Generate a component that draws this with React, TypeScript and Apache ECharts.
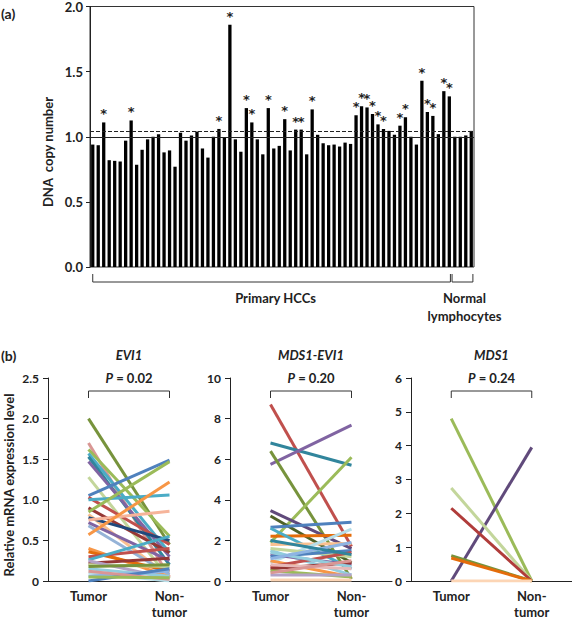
import React, { useEffect, useRef } from 'react';
import * as echarts from 'echarts';

// ---------- Panel (a): DNA copy number ----------
const copyNumbers = [
  0.94, 0.935, 1.11, 0.82, 0.815, 0.81, 0.97, 1.125, 0.785, 0.9,
  0.98, 1.0, 1.02, 0.88, 0.895, 0.77, 1.03, 0.97, 1.01, 1.04,
  0.91, 0.84, 1.0, 1.06, 0.99, 1.86, 0.98, 0.885, 1.22, 1.11,
  0.98, 0.865, 1.22, 0.91, 0.93, 1.135, 0.895, 1.055, 1.055, 0.865,
  1.21, 1.015, 0.95, 0.935, 0.94, 0.925, 0.955, 0.945, 1.165, 1.235,
  1.225, 1.175, 1.095, 1.06, 1.045, 1.015, 1.085, 1.15, 1.0, 0.94,
  1.43, 1.19, 1.16, 1.02, 1.35, 1.31, 1.0, 1.0, 1.01, 1.045,
];
// 1-based sample numbers marked with an asterisk
const starredSamples = [3, 8, 24, 26, 29, 30, 33, 36, 38, 39, 41, 49, 50, 51, 52, 53, 54, 57, 58, 61, 62, 63, 65, 66];
const hccCount = 66; // first 66 = primary HCCs, remaining = normal lymphocytes
const baselineValue = 1.0;
const thresholdValue = 1.04;
const copyAxisMax = 2.0;
const copyAxisInterval = 0.5;
const groupLabelA = ['Primary HCCs', 'Normal\nlymphocytes'];

// ---------- Panel (b): relative mRNA expression ----------
const groups = ['Tumor', 'Non-\ntumor'];
const geneNames = ['EVI1', 'MDS1-EVI1', 'MDS1'];
const pValues = ['0.02', '0.20', '0.24'];
const yMaxB = [2.5, 10, 6];
const yIntervalB = [0.5, 2, 1];

const evi1Tumor = [2.0, 1.7, 1.62, 1.57, 1.53, 1.47, 1.28, 1.05, 1.03, 1.0, 0.9, 0.85, 0.82, 0.78, 0.75, 0.72, 0.68, 0.57, 0.4, 0.36, 0.3, 0.26, 0.22, 0.2, 0.25, 0.15, 0.1, 0.06, 0.0, 0.12, 0.18, 0.05];
const evi1NonTumor = [0.45, 0.05, 0.55, 0.35, 0.2, 0.3, 0.03, 1.49, 0.45, 1.06, 0.35, 1.47, 0.05, 0.5, 0.86, 0.25, 0.08, 1.22, 0.05, 0.12, 0.4, 0.55, 0.28, 0.18, 0.03, 0.06, 0.0, 0.12, 0.15, 0.02, 0.2, 0.04];
const evi1Colors = ['#77933C', '#D99694', '#9BBB59', '#4BACC6', '#31859C', '#8064A2', '#C3D69B', '#4F81BD', '#C0504D', '#4BACC6', '#953735', '#9BBB59', '#FAC090', '#1F497D', '#F6B49A', '#8064A2', '#95B3D7', '#F79646', '#F79646', '#E46C0A', '#C0504D', '#4BACC6', '#953735', '#C3D69B', '#B3A2C7', '#93CDDD', '#B7DEE8', '#8EB4E3', '#4F81BD', '#D99694', '#77933C', '#9BBB59'];

const mdsEvi1Tumor = [8.7, 6.8, 5.75, 6.4, 1.9, 3.47, 3.2, 2.65, 2.2, 2.6, 1.8, 0.9, 1.5, 1.6, 1.3, 1.2, 1.0, 0.7, 0.6, 0.5, 0.3, 0.05, 1.4, 1.1, 0.8, 2.0, 0.4];
const mdsEvi1NonTumor = [1.7, 5.7, 7.68, 0.1, 6.1, 1.6, 0.9, 2.9, 2.25, 0.6, 1.85, 2.55, 0.3, 1.2, 0.8, 1.5, 0.2, 1.4, 0.9, 0.2, 0.3, 0.05, 0.7, 1.9, 0.6, 1.3, 1.0];
const mdsEvi1Colors = ['#C0504D', '#31859C', '#8064A2', '#77933C', '#9BBB59', '#604A7B', '#4F6228', '#4F81BD', '#E46C0A', '#4BACC6', '#FAC090', '#B7DEE8', '#93CDDD', '#C3D69B', '#8064A2', '#4F81BD', '#F79646', '#C0504D', '#953735', '#9BBB59', '#B3A2C7', '#FCD5B5', '#93CDDD', '#8EB4E3', '#E6B9B8', '#31859C', '#D99694'];

const mds1Tumor = [4.8, 0.0, 2.75, 2.15, 0.75, 0.68, 0.0];
const mds1NonTumor = [0.0, 3.95, 0.0, 0.0, 0.0, 0.0, 0.0];
const mds1Colors = ['#9BBB59', '#604A7B', '#C3D69B', '#B03C3A', '#77933C', '#E46C0A', '#FCD5B5'];

const tumorB = [evi1Tumor, mdsEvi1Tumor, mds1Tumor];
const nonTumorB = [evi1NonTumor, mdsEvi1NonTumor, mds1NonTumor];
const colorsB = [evi1Colors, mdsEvi1Colors, mds1Colors];

const FONT = 'Lato';
const TXT = '#222';

export default function App() {
  const ref = useRef<HTMLDivElement>(null);
  useEffect(() => {
    document.body.style.margin = '0';
    const chart = echarts.init(ref.current!, null, { renderer: 'svg' });
    const labelStyle = { fontFamily: FONT, fontWeight: 'bold' as const, fontSize: 12, color: TXT };

    const gridsB = [48, 230, 411].map((left) => ({ left, top: 378, width: 162, height: 207 }));

    const series: any[] = [];
    series.push({
      type: 'bar',
      xAxisIndex: 0,
      yAxisIndex: 0,
      barCategoryGap: '40%',
      itemStyle: { color: '#000' },
      silent: true,
      data: copyNumbers.map((v, i) => ({
        value: v,
        label: {
          show: starredSamples.includes(i + 1),
          position: 'top',
          distance: 2,
          formatter: '*',
          fontFamily: 'DejaVu Sans',
          fontWeight: 'bold',
          fontSize: 13,
          color: '#222',
        },
      })),
      markLine: {
        silent: true,
        symbol: ['none', 'none'],
        label: { show: false },
        data: [
          { yAxis: baselineValue, lineStyle: { type: 'solid', color: '#222', width: 1 } },
          { yAxis: thresholdValue, lineStyle: { type: [4, 2], color: '#222', width: 1 } },
        ],
      },
    });

    for (let g = 0; g < 3; g++) {
      tumorB[g].forEach((t, j) => {
        series.push({
          type: 'line',
          xAxisIndex: g + 1,
          yAxisIndex: g + 1,
          data: [t, nonTumorB[g][j]],
          symbol: 'none',
          silent: true,
          lineStyle: { width: 3, color: colorsB[g][j % colorsB[g].length] },
          itemStyle: { color: colorsB[g][j % colorsB[g].length] },
        });
      });
    }

    const option: any = {
      animation: false,
      grid: [
        { left: 90, top: 5, width: 384, height: 262, show: true, borderColor: '#333', borderWidth: 1 },
        ...gridsB,
      ],
      xAxis: [
        {
          gridIndex: 0,
          type: 'category',
          data: copyNumbers.map((_, i) => String(i + 1)),
          axisLine: { show: false },
          axisTick: { show: false },
          axisLabel: { show: false },
        },
        ...[1, 2, 3].map((gi) => ({
          gridIndex: gi,
          type: 'category',
          data: groups,
          axisLine: { lineStyle: { color: '#222', width: 1 } },
          axisTick: { show: false },
          axisLabel: { ...labelStyle, fontSize: 13, margin: 7, lineHeight: 16 },
        })),
      ],
      yAxis: [
        {
          gridIndex: 0,
          type: 'value',
          min: 0,
          max: copyAxisMax,
          interval: copyAxisInterval,
          axisLine: { show: true, lineStyle: { color: '#222' } },
          axisTick: { show: true, length: 4, lineStyle: { color: '#222' } },
          axisLabel: { ...labelStyle, fontSize: 13, margin: 7, formatter: (v: number) => v.toFixed(1) },
          splitLine: { show: false },
        },
        ...[0, 1, 2].map((g) => ({
          gridIndex: g + 1,
          type: 'value',
          min: 0,
          max: yMaxB[g],
          interval: yIntervalB[g],
          axisLine: { show: true, lineStyle: { color: '#222' } },
          axisTick: { show: true, length: 5, lineStyle: { color: '#222' } },
          axisLabel: {
            ...labelStyle,
            fontSize: 12,
            margin: 9,
            formatter: (v: number) => (v === 0 ? '0' : yIntervalB[g] < 1 ? v.toFixed(1) : String(v)),
          },
          splitLine: { show: false },
        })),
      ],
      series,
    };
    chart.setOption(option);

    const px = (gi: number, cat: number, val: number) =>
      chart.convertToPixel({ gridIndex: gi } as any, [cat, val]) as number[];

    const graphic: any[] = [];
    const txt = (id: string, x: number, y: number, text: string, extra: any = {}, rotation = 0) => ({
      type: 'text',
      id,
      x,
      y,
      rotation,
      silent: true,
      style: {
        text,
        fontFamily: FONT,
        fontWeight: 'bold',
        fontSize: 13,
        fill: TXT,
        textAlign: 'center',
        verticalAlign: 'middle',
        ...extra,
      },
    });

    // panel (a) labels
    graphic.push(txt('lab-a', 1, 13, '(a)', { textAlign: 'left', fontSize: 14 }));
    graphic.push(txt('ya', 48, 152, 'DNA  copy number', { fontSize: 13 }, Math.PI / 2));
    const c0 = px(0, 0, 0)[0];
    const step = px(0, 1, 0)[0] - c0;
    const cLastHcc = px(0, hccCount - 1, 0)[0];
    const cFirstN = px(0, hccCount, 0)[0];
    const cLastN = px(0, copyNumbers.length - 1, 0)[0];
    const yBot = px(0, 0, 0)[1];
    const brackets = [
      [c0, cLastHcc + step * 0.2],
      [cFirstN - step * 0.5, cLastN + step * 0.3],
    ];
    brackets.forEach(([x1, x2], k) => {
      graphic.push({
        type: 'polyline',
        id: 'bra' + k,
        silent: true,
        shape: { points: [[x1, yBot + 7], [x1, yBot + 15], [x2, yBot + 15], [x2, yBot + 7]] },
        style: { stroke: '#333', lineWidth: 1, fill: 'none' },
      });
    });
    graphic.push(txt('g0', (brackets[0][0] + brackets[0][1]) / 2 + 4, yBot + 31, groupLabelA[0]));
    graphic.push(txt('g1', (brackets[1][0] + brackets[1][1]) / 2 + 2, yBot + 40, groupLabelA[1], { lineHeight: 18 }));

    // panel (b) labels
    graphic.push(txt('lab-b', 1, 355, '(b)', { textAlign: 'left', fontSize: 14 }));
    graphic.push(txt('yb', 9, 485, 'Relative mRNA expression level', { fontSize: 13 }, Math.PI / 2));
    for (let g = 0; g < 3; g++) {
      const [x1, yTop] = px(g + 1, 0, yMaxB[g]);
      const x2 = px(g + 1, 1, 0)[0];
      const cx = (x1 + x2) / 2;
      graphic.push({
        type: 'polyline',
        id: 'brb' + g,
        silent: true,
        shape: { points: [[x1, yTop + 20], [x1, yTop + 13], [x2, yTop + 13], [x2, yTop + 20]] },
        style: { stroke: '#333', lineWidth: 1, fill: 'none' },
      });
      graphic.push(txt('title' + g, cx, yTop - 23, geneNames[g], { fontStyle: 'italic', fontSize: 13 }));
      graphic.push(
        txt('p' + g, cx, yTop, '{i|P} = ' + pValues[g], {
          fontSize: 13,
          rich: { i: { fontStyle: 'italic', fontWeight: 'bold', fontFamily: FONT, fontSize: 13, fill: TXT } },
        })
      );
    }
    chart.setOption({ graphic });

    return () => chart.dispose();
  }, []);

  return <div ref={ref} style={{ position: 'fixed', left: 0, top: 0, width: 572, height: 620, background: '#fff' }} />;
}
